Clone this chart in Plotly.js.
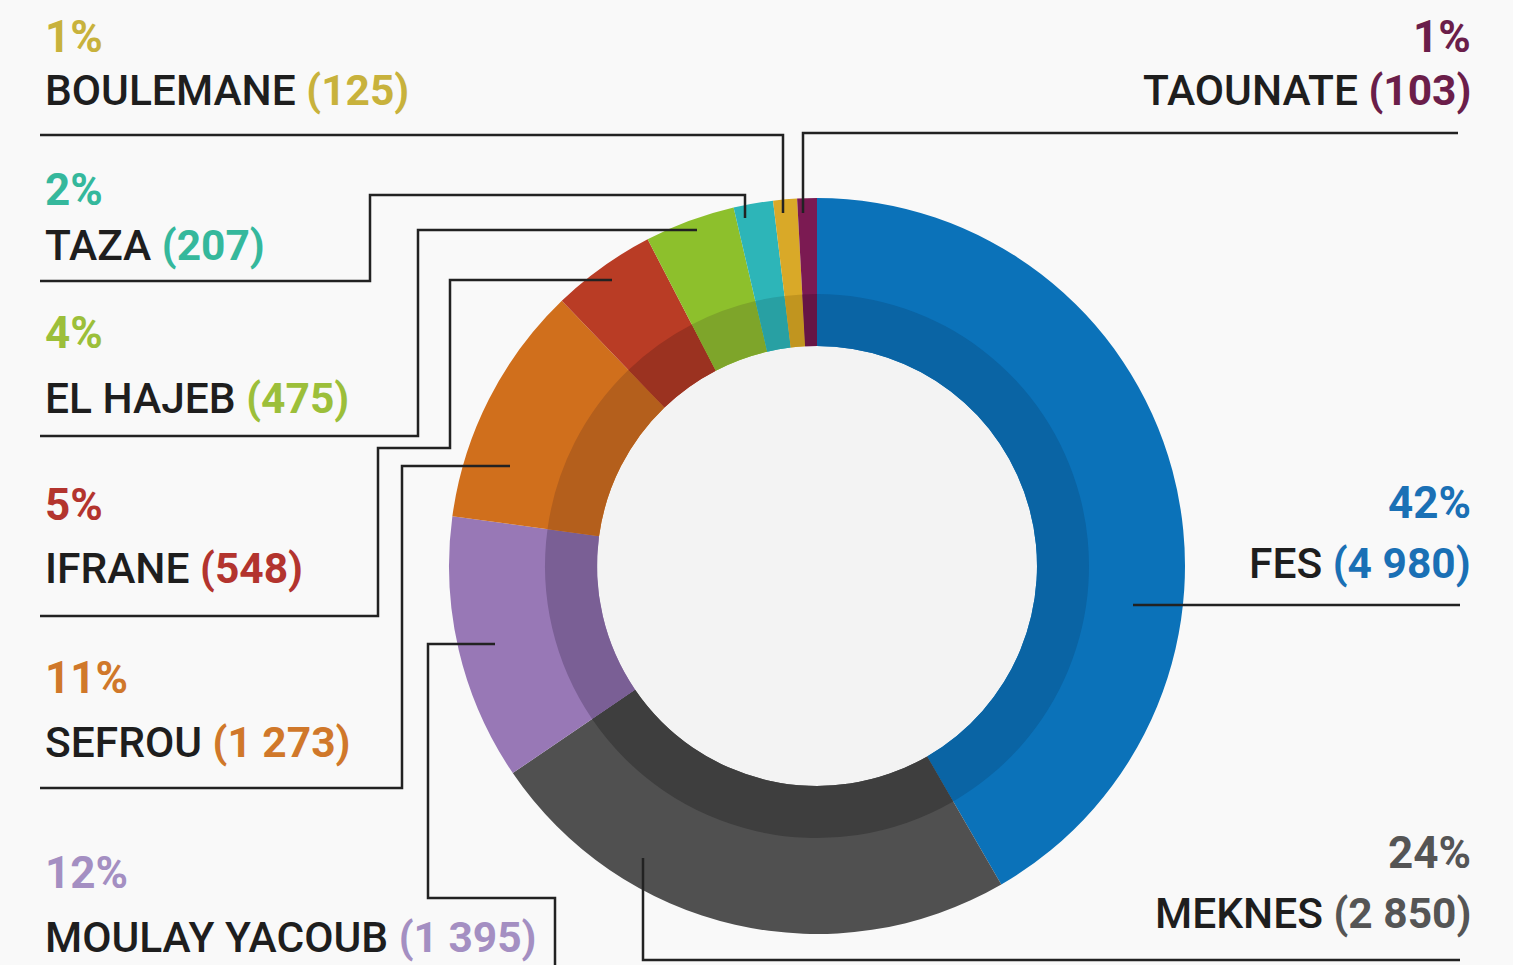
<!DOCTYPE html>
<html>
<head>
<meta charset="utf-8">
<script src="https://cdn.plot.ly/plotly-3.0.1.min.js"></script>
<style>
  html, body { margin: 0; padding: 0; background: #f9f9f9; }
  #chart { width: 1513px; height: 965px; }
</style>
</head>
<body>
<div id="chart"></div>
<script>
// ---- data ----
const regions = ['FES', 'MEKNES', 'MOULAY YACOUB', 'SEFROU', 'IFRANE', 'EL HAJEB', 'TAZA', 'BOULEMANE', 'TAOUNATE'];
const counts = [4980, 2850, 1395, 1273, 548, 475, 207, 125, 103];
const countLabels = ['4 980', '2 850', '1 395', '1 273', '548', '475', '207', '125', '103'];
const percentLabels = ['42%', '24%', '12%', '11%', '5%', '4%', '2%', '1%', '1%'];

// ---- styles ----
const sliceColors = ['#0b72b9', '#505050', '#9878b6', '#d06f1c', '#b93c25', '#8dc02c', '#2db5b8', '#d9a928', '#7b1a52'];
const bandColors  = ['#0a64a4', '#3e3e3e', '#7a5f95', '#b45f1c', '#9b3220', '#7ea52a', '#28a0a3', '#c1951f', '#661545'];
const textColors  = ['#1a70b5', '#555555', '#a48fc2', '#d0782a', '#b3342e', '#9cbf3a', '#35b89c', '#c8b23c', '#6b1e4a'];

const W = 1513, H = 965;
const cx = 817, cy = 566, R = 368, Rband = 272, Rhole = 220;
const px = v => v / W;
const py = v => 1 - v / H;

// label placement: [pctY, nameY, side]
const labelPos = {
  'BOULEMANE': [37, 90, 'L'],
  'TAZA': [190, 245, 'L'],
  'EL HAJEB': [333, 398, 'L'],
  'IFRANE': [505, 568, 'L'],
  'SEFROU': [678, 742, 'L'],
  'MOULAY YACOUB': [873, 937, 'L'],
  'TAOUNATE': [37, 90, 'R'],
  'FES': [503, 563, 'R'],
  'MEKNES': [853, 913, 'R']
};
// leader routes in pixels
const leaderRoutes = {
  'BOULEMANE': [[40,135],[783,135],[783,213]],
  'TAZA': [[40,281],[370,281],[370,195],[745,195],[745,218]],
  'EL HAJEB': [[40,436],[418,436],[418,230],[697,230]],
  'IFRANE': [[40,616],[378,616],[378,448],[450,448],[450,280],[612,280]],
  'SEFROU': [[40,788],[402,788],[402,466],[510,466]],
  'MOULAY YACOUB': [[495,644],[428,644],[428,898],[555,898],[555,968]],
  'TAOUNATE': [[1458,133],[803,133],[803,213]],
  'FES': [[1133,605],[1460,605]],
  'MEKNES': [[643,858],[643,960],[1460,960]]
};

const FONT = 'Roboto, "DejaVu Sans Condensed", sans-serif';

const outer = {
  type: 'pie', labels: regions, values: counts, sort: false, direction: 'clockwise', rotation: 0,
  hole: Rhole / R,
  marker: { colors: sliceColors, line: { width: 0 } },
  textinfo: 'none', hoverinfo: 'label+value+percent', showlegend: false,
  domain: { x: [px(cx - R), px(cx + R)], y: [py(cy + R), py(cy - R)] }
};
const band = {
  type: 'pie', labels: regions, values: counts, sort: false, direction: 'clockwise', rotation: 0,
  hole: Rhole / Rband,
  marker: { colors: bandColors, line: { width: 0 } },
  textinfo: 'none', hoverinfo: 'skip', showlegend: false,
  domain: { x: [px(cx - Rband), px(cx + Rband)], y: [py(cy + Rband), py(cy - Rband)] }
};

const annotations = [];
const shapes = [];

shapes.push({
  type: 'circle', xref: 'paper', yref: 'paper', layer: 'below',
  x0: px(cx - Rhole), x1: px(cx + Rhole), y0: py(cy + Rhole), y1: py(cy - Rhole),
  fillcolor: '#f3f3f3', line: { width: 0 }
});

regions.forEach((r, i) => {
  const [pY, nY, side] = labelPos[r];
  const x = side === 'L' ? px(43) : px(1473);
  const xa = side === 'L' ? 'left' : 'right';
  annotations.push({
    xref: 'paper', yref: 'paper', x: x, y: py(pY), xanchor: xa, yanchor: 'middle',
    text: '<b>' + percentLabels[i] + '</b>', showarrow: false,
    font: { family: FONT, size: 44, color: textColors[i] }
  });
  annotations.push({
    xref: 'paper', yref: 'paper', x: x, y: py(nY), xanchor: xa, yanchor: 'middle',
    text: r + ' <span style="color:' + textColors[i] + ';font-weight:bold">(' + countLabels[i] + ')</span>',
    showarrow: false,
    font: { family: FONT, size: 42.5, color: '#1e1e1e', weight: 500 }
  });
  const pts = leaderRoutes[r];
  let d = 'M ' + pts.map(p => px(p[0]) + ',' + py(p[1])).join(' L ');
  shapes.push({ type: 'path', xref: 'paper', yref: 'paper', path: d, line: { color: '#222222', width: 2.5 } });
});

const layout = {
  width: W, height: H, margin: { l: 0, r: 0, t: 0, b: 0 },
  paper_bgcolor: '#f9f9f9', plot_bgcolor: '#f9f9f9',
  showlegend: false, annotations: annotations, shapes: shapes,
  font: { family: FONT }
};

Plotly.newPlot('chart', [outer, band], layout, { displayModeBar: false, staticPlot: true });
</script>
</body>
</html>
